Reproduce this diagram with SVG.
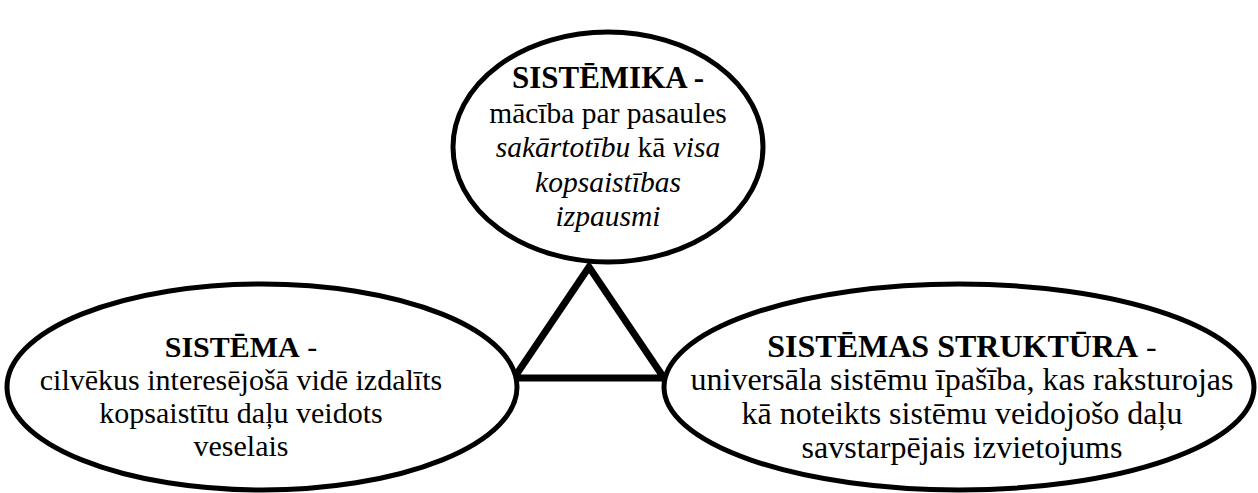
<svg xmlns="http://www.w3.org/2000/svg" width="1258" height="493" viewBox="0 0 1258 493">
<style>
.node{fill:#fff;stroke:#000;stroke-width:5}
.t{font-family:"Liberation Serif","Times New Roman",serif;fill:#000;text-anchor:middle}
.b{font-weight:bold}
.i{font-style:italic}
.conn{fill:none;stroke:#000;stroke-width:7;stroke-linejoin:miter}
</style>
<g id="connectors">
<polygon class="conn" points="589,267 514,378 664,378"/>
</g>
<g id="sistemika">
<ellipse class="node" cx="608" cy="147" rx="155" ry="115"/>
<text class="t" font-size="29.5"><tspan class="b" x="608" y="88" font-size="31">SISTĒMIKA -</tspan><tspan x="608" y="123">mācība par pasaules</tspan><tspan x="608" y="157"><tspan class="i">sakārtotību</tspan> kā <tspan class="i">visa</tspan></tspan><tspan class="i" x="608" y="192">kopsaistības</tspan><tspan class="i" x="608" y="226">izpausmi</tspan></text>
</g>
<g id="sistema">
<ellipse class="node" cx="262" cy="387" rx="255" ry="103"/>
<text class="t" font-size="30"><tspan x="241" y="357"><tspan class="b">SISTĒMA</tspan> -</tspan><tspan x="241" y="390">cilvēkus interesējošā vidē izdalīts</tspan><tspan x="241" y="423">kopsaistītu daļu veidots</tspan><tspan x="241" y="456">veselais</tspan></text>
</g>
<g id="struktura">
<ellipse class="node" cx="959" cy="387" rx="295" ry="103"/>
<text class="t" font-size="32"><tspan x="962" y="357"><tspan class="b">SISTĒMAS STRUKTŪRA</tspan> -</tspan><tspan x="962" y="390">universāla sistēmu īpašība, kas raksturojas</tspan><tspan x="962" y="424">kā noteikts sistēmu veidojošo daļu</tspan><tspan x="962" y="458">savstarpējais izvietojums</tspan></text>
</g>
</svg>
